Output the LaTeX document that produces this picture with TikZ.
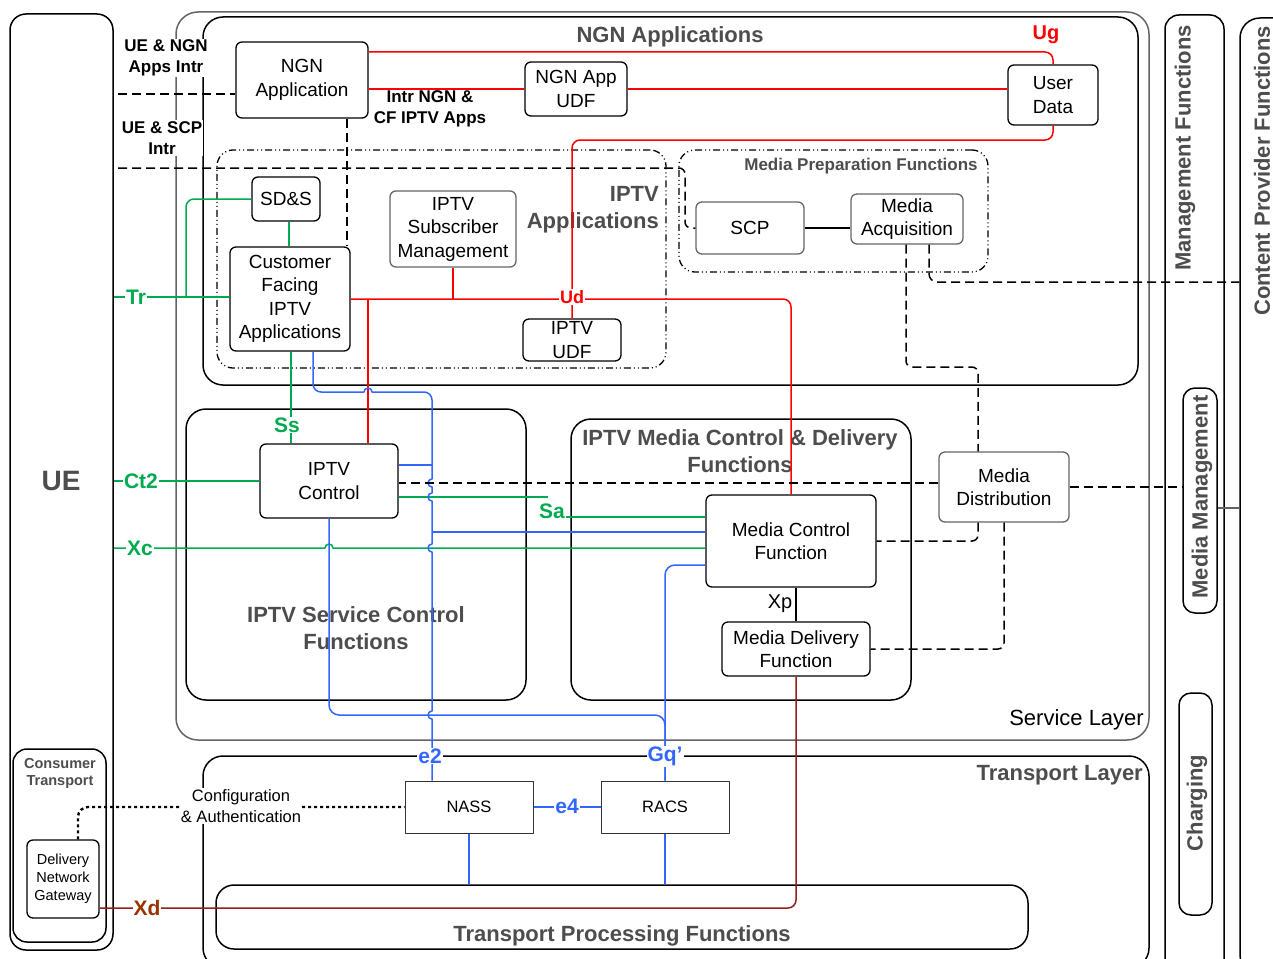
\documentclass[tikz,border=0pt]{standalone}
\usepackage{fontspec}
\setmainfont{Liberation Sans}
\definecolor{lgray}{RGB}{77,77,77}
\definecolor{grn}{RGB}{0,170,80}
\definecolor{blu}{RGB}{51,102,255}
\definecolor{rdd}{RGB}{255,0,0}
\definecolor{brn}{RGB}{150,30,30}
\definecolor{brnl}{RGB}{153,51,0}
\definecolor{edgegray}{RGB}{100,100,100}
\newcommand\vjump[2]{-- (#1,#2-4) arc[start angle=90,end angle=270,radius=4pt]}
\newcommand\hjump[2]{-- (#1-4,#2) arc[start angle=180,end angle=0,radius=4pt]}
\begin{document}
\begin{tikzpicture}[x=1pt,y=-1pt,line join=round,
 lay/.style={draw=black,line width=1.5pt,inner sep=0pt,rounded corners=#1},
 ddlay/.style={lay=#1,line width=1.3pt,dash pattern=on 7pt off 3pt on 1pt off 3pt on 1pt off 3pt},
 fbox/.style={draw=black,line width=1.3pt,rounded corners=6pt,inner sep=0pt,align=center,fill=white,font=\fontsize{19}{23.5}\selectfont},
 gbox/.style={fbox,draw=black!60},
 sbox/.style={fbox,rounded corners=0pt,line width=1pt,draw=black!80,font=\fontsize{16.5}{19}\selectfont},
 ttl/.style={font=\bfseries\fontsize{22}{27}\selectfont,text=lgray,align=center,inner sep=0pt},
 vttl/.style={ttl,rotate=90},
 ilab/.style={font=\bfseries\fontsize{21}{24}\selectfont,inner sep=1pt,fill=white},
 intr/.style={font=\bfseries\fontsize{17}{21}\selectfont,align=center,inner sep=1pt,fill=white},
 gl/.style={draw=grn,line width=1.5pt},
 bll/.style={draw=blu,line width=1.5pt},
 rl/.style={draw=rdd,line width=1.5pt},
 dl/.style={draw=black,line width=1.5pt,dash pattern=on 9pt off 5pt},
]
\useasboundingbox (0,0) rectangle (1273,958);
\fill[white] (0,0) rectangle (1273,958);
\clip (0,0) rectangle (1273,958);

% ---------- layers / containers
\node[lay=16pt,minimum width=103pt,minimum height=936pt] (ue) at (61.5,482) {};
\node[lay=14pt,minimum width=93pt,minimum height=193pt] (ctr) at (59.5,845.5) {};
\node[lay=22pt,draw=edgegray,minimum width=973pt,minimum height=728pt] (svc) at (662.5,376) {};
\node[lay=20pt,minimum width=935pt,minimum height=368pt] (ngn) at (670.5,201) {};
\node[ddlay=16pt,minimum width=449pt,minimum height=218pt] (iptvapps) at (441.5,259) {};
\node[ddlay=16pt,minimum width=309pt,minimum height=122pt] (mprep) at (833.5,211) {};
\node[lay=20pt,minimum width=340pt,minimum height=291pt] (scf) at (356,554.5) {};
\node[lay=20pt,minimum width=340pt,minimum height=281pt] (mcd) at (741,559.5) {};
\node[lay=20pt,minimum width=946pt,minimum height=212pt] (tl) at (676,862) {};
\node[lay=18pt,minimum width=812pt,minimum height=64pt] (tpf) at (622,917) {};
\node[lay=14pt,minimum width=59pt,minimum height=960pt] (mgmt) at (1194.5,495) {};
\node[lay=12pt,minimum width=34pt,minimum height=225pt] (mmgmt) at (1200,500.5) {};
\node[lay=12pt,minimum width=33pt,minimum height=222pt] (chg) at (1195.5,804) {};
\node[lay=20pt,minimum width=60pt,minimum height=957pt] (cpf) at (1270,496.5) {};

% ---------- titles
\node[ttl] at (670,37) {NGN Applications};
\node[ttl,anchor=east,align=right] at (659,210) {IPTV\\Applications};
\node[ttl,font=\bfseries\fontsize{17}{20}\selectfont] at (861,166) {Media Preparation Functions};
\node[ttl] at (356,628.5) {IPTV Service Control\\Functions};
\node[ttl] at (740,451.5) {IPTV Media Control \& Delivery\\Functions};
\node[ttl,anchor=east,text=black,font=\fontsize{22}{25}\selectfont] at (1144,720) {Service Layer};
\node[ttl,anchor=east] at (1143,775) {Transport Layer};
\node[ttl] at (622,936) {Transport Processing Functions};
\node[ttl,font=\bfseries\fontsize{28}{32}\selectfont] at (61,481) {UE};
\node[ttl,font=\bfseries\fontsize{14.5}{17}\selectfont] at (60,773) {Consumer\\Transport};
\node[vttl] at (1185,148) {Management Functions};
\node[vttl] at (1202,497) {Media Management};
\node[vttl] at (1197,803) {Charging};
\node[vttl] at (1262,171) {Content Provider Functions};

% ---------- boxes
\node[fbox,minimum width=132pt,minimum height=76pt] (ngnapp) at (302,80) {NGN\\Application};
\node[fbox,minimum width=102pt,minimum height=54pt] (ngnudf) at (576,89) {NGN App\\UDF};
\node[fbox,minimum width=90pt,minimum height=60pt] (udata) at (1053,95) {User\\Data};
\node[fbox,minimum width=68pt,minimum height=44pt] (sds) at (286,199) {SD\&S};
\node[fbox,minimum width=120pt,minimum height=104pt] (cfia) at (290,299) {Customer\\Facing\\IPTV\\Applications};
\node[gbox,minimum width=126pt,minimum height=76pt] (ism) at (453,229) {IPTV\\Subscriber\\Management};
\node[fbox,minimum width=98pt,minimum height=42pt] (iudf) at (572,340) {IPTV\\UDF};
\node[gbox,minimum width=108pt,minimum height=52pt] (scp) at (750,228) {SCP};
\node[gbox,minimum width=112pt,minimum height=50pt] (ma) at (907,219) {Media\\Acquisition};
\node[gbox,minimum width=130pt,minimum height=70pt] (md) at (1004,487) {Media\\Distribution};
\node[fbox,minimum width=138pt,minimum height=74pt] (ictrl) at (329,481) {IPTV\\Control};
\node[fbox,minimum width=170pt,minimum height=92pt] (mcf) at (791,541) {Media Control\\Function};
\node[fbox,minimum width=148pt,minimum height=54pt] (mdf) at (796,649) {Media Delivery\\Function};
\node[sbox,minimum width=128pt,minimum height=52pt] (nass) at (469,807) {NASS};
\node[sbox,minimum width=128pt,minimum height=52pt] (racs) at (665,807) {RACS};
\node[fbox,minimum width=72pt,minimum height=78pt,font=\fontsize{14.5}{18}\selectfont] (dng) at (63,879) {Delivery\\Network\\Gateway};

% ---------- red connectors
\coordinate (rj) at (368,299);
\draw[rl,rounded corners=8pt] (ngnapp.east |- 0,52) -- (udata.north |- 0,52) -- (udata.north);
\draw[rl] (ngnapp.east |- ngnudf.west) -- (ngnudf.west);
\draw[rl] (ngnudf.east) -- (udata.west |- ngnudf.east);
\draw[rl,rounded corners=8pt] (udata.south) -- (udata.south |- 0,140) -- (572,140) -- (iudf.north);
\draw[rl,rounded corners=8pt] (cfia.east |- 0,299) -- (mcf.north |- 0,299) -- (mcf.north);
\draw[rl] (ism.south) -- (ism.south |- 0,299);
\draw[rl] (rj) -- (ictrl.north -| rj);

% ---------- green connectors
\draw[gl] (ue.east |- 0,297) -- (cfia.west |- 0,297);
\draw[gl,rounded corners=8pt] (sds.west) -- (sds.west -| 186,0) -- (186,297);
\draw[gl] (sds.south -| 289,0) -- (cfia.north -| 289,0);
\draw[gl] (cfia.south -| 291,0) -- (ictrl.north -| 291,0);
\draw[gl] (ue.east |- ictrl.west) -- (ictrl.west);
\draw[gl] (ue.east |- 0,548) \hjump{329}{548} -- (mcf.west |- 0,548);
\draw[gl] (ictrl.east |- 0,497) -- (548,497);
\draw[gl] (566,517) -- (mcf.west |- 0,517);

% ---------- blue connectors
\draw[bll,rounded corners=8pt] (cfia.south -| 313,0) -- (313,392) -- (352,392);
\draw[bll] (352,392) \hjump{368}{392} -- (416,392);
\draw[bll,rounded corners=8pt] (416,392) -- (432,392) -- (432,440);
\draw[bll] (432,440) \vjump{432}{483} \vjump{432}{497} \vjump{432}{548} \vjump{432}{715} -- (nass.north -| 432,0);
\draw[bll] (ictrl.east |- 0,465) -- (432,465);
\draw[bll] (mcf.west |- 0,532) -- (432,532);
\draw[bll,rounded corners=10pt] (ictrl.south) -- (329,715) -- (racs.north |- 0,715) -- (racs.north);
\draw[bll,rounded corners=10pt] (mcf.west |- 0,565) -- (racs.north |- 0,565) -- (racs.north);
\draw[bll] (nass.east) -- (racs.west);
\draw[bll] (nass.south) -- (nass.south |- tpf.north);
\draw[bll] (racs.south) -- (racs.south |- tpf.north);

% ---------- Xd
\draw[draw=brn,line width=1.5pt,rounded corners=8pt] (mdf.south) -- (mdf.south |- 0,908) -- (dng.east |- 0,908);

% ---------- dashed connectors
\coordinate (uen) at (118,94);
\coordinate (ues) at (118,168);
\draw[dl] (uen) -- (ngnapp.west |- uen);
\draw[dl,rounded corners=6pt] (ues) -- (685,168) -- (685,228) -- (scp.west);
\draw[dl] (ngnapp.south -| 347,0) -- (cfia.north -| 347,0);
\draw[dl,rounded corners=6pt] (ma.south -| 906,0) -- (906,367) -- (978,367) -- (md.north -| 978,0);
\draw[dl,rounded corners=8pt] (ma.south -| 929,0) -- (929,282) -- (cpf.west |- 0,282);
\draw[dl] (md.west |- 0,483) -- (ictrl.east |- 0,483);
\draw[dl] (md.east) -- (mmgmt.west |- md.east);
\draw[dl,rounded corners=6pt] (md.south -| 978,0) -- (978,541) -- (mcf.east);
\draw[dl,rounded corners=6pt] (md.south -| 1004,0) -- (1004,649) -- (mdf.east);

% ---------- thin solid
\draw[line width=1.2pt] (scp.east) -- (ma.west |- scp.east);
\draw[line width=1.2pt] (mcf.south -| 796,0) -- (mdf.north);
\draw[edgegray,line width=1.4pt] (mmgmt.east |- 0,508) -- (cpf.west |- 0,508);

% ---------- dotted configuration link
\draw[line width=2.4pt,dash pattern=on 3pt off 3pt,rounded corners=10pt] (dng.north -| 78,0) -- (78,807) -- (nass.west);

% ---------- labels
\node[ilab,text=grn] at (136,297) {Tr};
\node[ilab,text=grn] at (141,481) {Ct2};
\node[ilab,text=grn] at (140,548) {Xc};
\node[ilab,text=grn] at (287,425) {Ss};
\node[ilab,text=grn] at (552,511) {Sa};
\node[ilab,text=rdd,font=\bfseries\fontsize{18}{22}\selectfont] at (572,297) {Ud};
\node[ilab,text=rdd,fill=none,font=\bfseries\fontsize{20}{24}\selectfont] at (1046,35) {Ug};
\node[ilab,text=blu] at (430,756) {e2};
\node[ilab,text=blu] at (665,756) {Gq’};
\node[ilab,text=blu] at (567,806) {e4};
\node[ilab,text=brnl] at (147,908) {Xd};
\node[font=\fontsize{20}{24}\selectfont] at (780,604) {Xp};
\node[intr] at (166,58) {UE \& NGN\\Apps Intr};
\node[intr] at (162,138) {UE \& SCP\\Intr};
\node[intr,fill=none] at (430,109) {Intr NGN \&\\CF IPTV Apps};
\node[intr,font=\fontsize{16.5}{21}\selectfont] at (241,806) {Configuration\\\& Authentication};
\end{tikzpicture}
\end{document}
